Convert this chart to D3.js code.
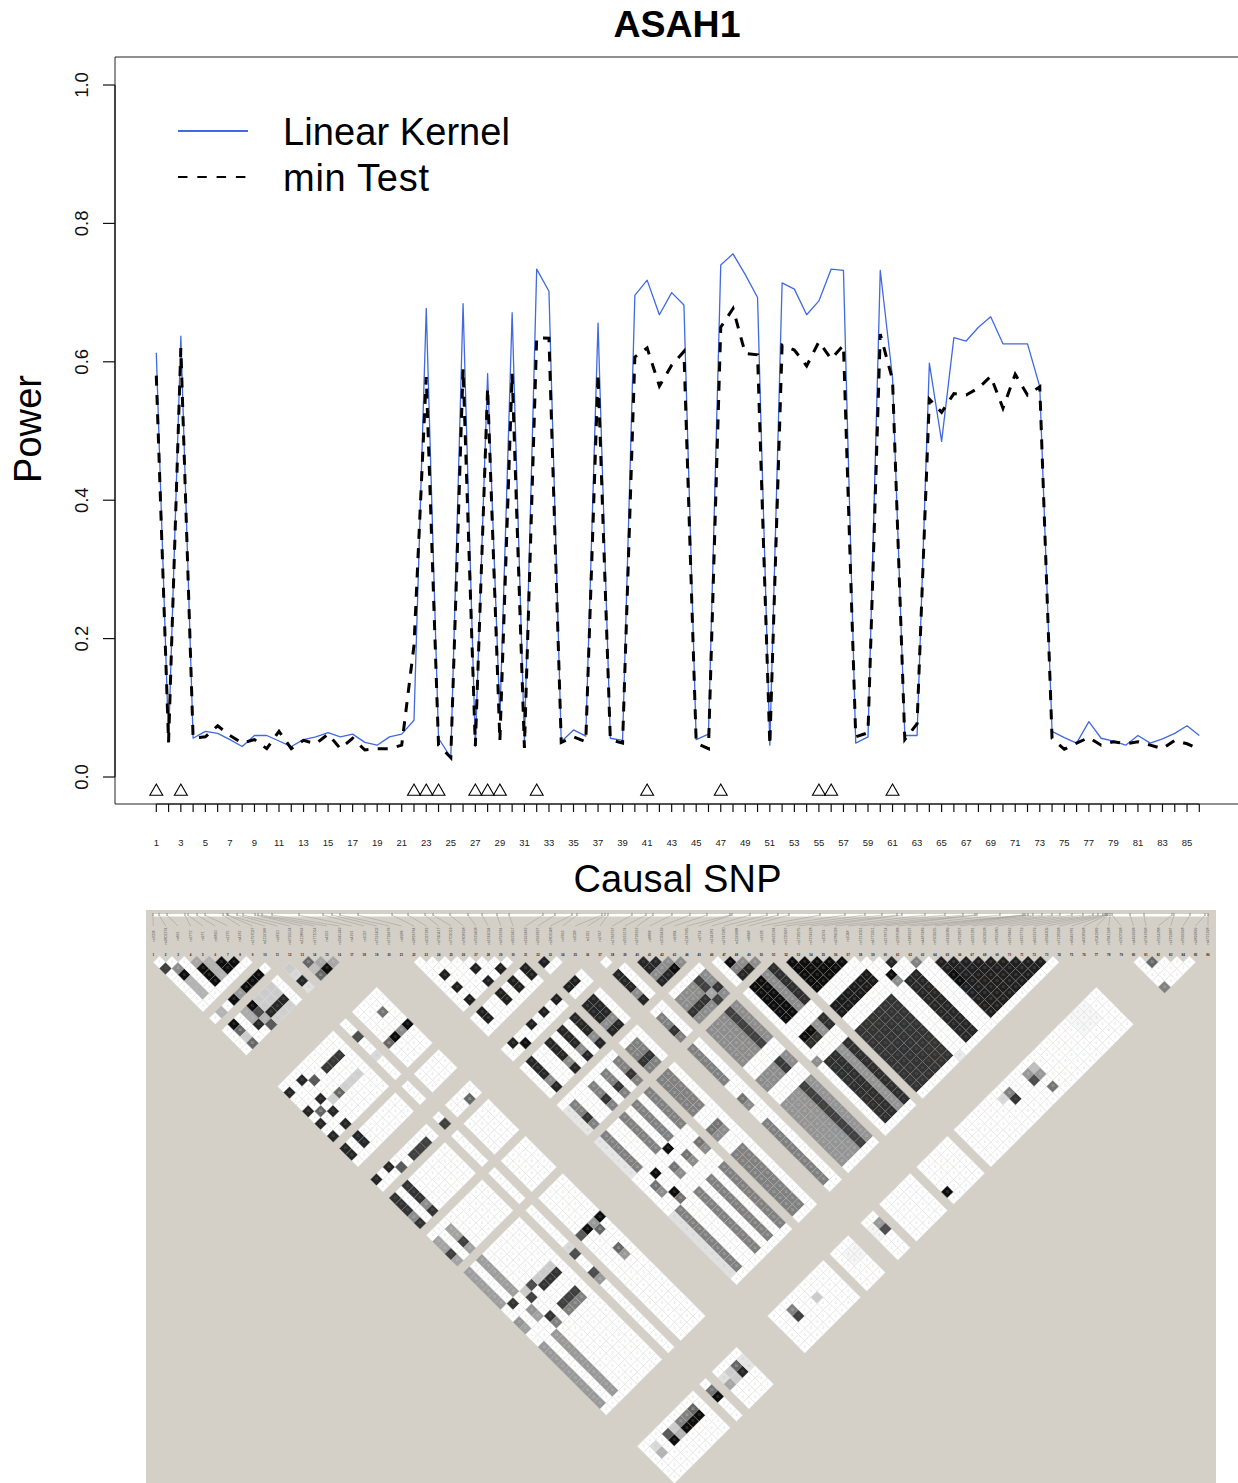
<!DOCTYPE html>
<html>
<head>
<meta charset="utf-8">
<script src="https://d3js.org/d3.v7.min.js"></script>
<style>
body { margin: 0; background: #fff; }
text { font-family: "Liberation Sans", Arial, sans-serif; }
</style>
</head>
<body>
<svg id="chart" width="1238" height="1483"></svg>
<script>
// power curves, one value per SNP 1..86
const linearKernel = [0.613,0.052,0.637,0.056,0.066,0.063,0.054,0.044,0.060,0.060,
  0.052,0.044,0.054,0.058,0.064,0.058,0.062,0.050,0.046,0.058,
  0.062,0.082,0.677,0.056,0.028,0.684,0.044,0.583,0.085,0.671,
  0.049,0.734,0.702,0.051,0.068,0.059,0.656,0.056,0.053,0.696,
  0.718,0.668,0.700,0.682,0.054,0.062,0.740,0.756,0.726,0.693,
  0.046,0.714,0.705,0.668,0.688,0.734,0.732,0.049,0.058,0.732,
  0.577,0.060,0.060,0.598,0.485,0.635,0.630,0.650,0.665,0.626,
  0.626,0.626,0.564,0.066,0.057,0.049,0.080,0.056,0.052,0.046,
  0.060,0.049,0.055,0.063,0.074,0.060];
const minTest = [0.580,0.050,0.620,0.056,0.058,0.074,0.060,0.049,0.054,0.041,
  0.066,0.041,0.053,0.048,0.062,0.041,0.056,0.039,0.041,0.041,
  0.046,0.190,0.578,0.046,0.028,0.590,0.045,0.562,0.052,0.583,
  0.042,0.635,0.634,0.050,0.058,0.051,0.583,0.054,0.049,0.607,
  0.620,0.565,0.595,0.615,0.049,0.041,0.650,0.677,0.612,0.610,
  0.046,0.624,0.617,0.594,0.629,0.604,0.624,0.058,0.064,0.640,
  0.574,0.054,0.077,0.546,0.527,0.554,0.552,0.562,0.579,0.533,
  0.582,0.552,0.564,0.056,0.040,0.049,0.057,0.046,0.051,0.048,
  0.051,0.046,0.041,0.053,0.048,0.040];
const causalSnps = [1,3,22,23,24,27,28,29,32,41,47,55,56,61];
const causalLevel = -0.021;
const yTicks = [0,0.2,0.4,0.6,0.8,1];
const legendLabels = ["Linear Kernel","min Test"];

// LD plot: marker names (tiny in the picture, read as well as possible), map positions
const markerNames = ["rs7008","rs3802274","rs691","rs2772","rs971","rs6890","rs1275","rs4161","rs1797027","rs1119166","rs2610","rs3735534",
  "rs1118694","rs1771014","rs4291","rs2945349","rs4291","rs1037","rs7191402","rs1739476","rs6986","rs3816764","rs1037282","rs2740417","rs7701013","rs7608298",
  "rs7919408","rs3749034","rs3793164","rs3923457","rs1992462","rs2992627","rs1801048","rs7693","rs2038","rs1911","rs2747","rs1763797","rs2919174","rs3726292",
  "rs8868","rs1033439","rs9384","rs1247965","rs2714","rs134281","rs2747980","rs1195688","rs6848","rs1928","rs6931584","rs1220967","rs1728275","rs7374928",
  "rs10974","rs3789018","rs1048","rs7213091","rs4773351","rs3178714","rs2187088","rs7482927","rs4467489","rs7903925","rs7439089","rs2792827","rs3231281",
  "rs5903928","rs7819280","rs1978462","rs1627719","rs6931979","rs1634309","rs7128398","rs6949781","rs4908398","rs7042989","rs7841398","rs1907398","rs4493998",
  "rs2741698","rs7914288","rs2793687","rs7639398","rs3899839","rs4721398"];
const markerPositions = [153,159,167,185,188,197,205,223,227,228,237,243,255,258,262,272,299,323,332,340,358,392,408,425,433,
  450,468,482,497,509,543,555,572,577,602,605,608,632,646,653,672,690,707,730,732,750,767,778,789,820,845,865,882,897,902,
  925,945,963,975,977,1000,1023,1025,1028,1033,1042,1052,1060,1072,1083,1093,1098,1103,1105,1106,1107,1108,1110,1112,1130,1144,1172,1174,1190,1205,1208];
const ldMarkers = [1,2,3,4,5,6,7,8,9,11,13,14,15,16,22,23,24,25,26,27,28,29,30,32,33,34,37,38,40,41,42,43,44,46,47,48,49,50,
  52,53,54,55,56,57,58,59,60,61,62,63,64,65,66,67,68,69,70,71,72,73,74,80,81,82,83,84,85];

const classA = [23,26,28,30,32,33,37];
const classB = [1,3];
const classC = [40,41,42,44];
const classD = [47,48,50];
const blockF = [52,53,54,55,56,57];
const blockG = [64,65,66,67,68,69,70,71,72,73];
const trio = [6,7,8];

// [first markers, second markers, r2], later rows win
const ldBlocks = [
  [[1],[3],.75],[[2],[4],.45],[[2],[5],.95],[[2],[6,7,8],.3],[[4],[5],.35],[[4],[6,7,8],.95],[[5],[6,7,8],.3],[[6,7],[7,8],.95],
  [trio,[11],.95],[[5],[11],.4],[[4],[11],.95],[[2],[11],.3],
  [[5],[13],.95],[[4],[13,14],.33],[[2],[13],.95],[[5],[14],.7],[[2],[14],.6],[[2],[15],.2],[[2],[16],.6],[[4],[15],.85],
  [[5],[16],.65],[[5],[15],.3],[trio,[15],.85],[trio,[13,14],.2],[trio,[16],.18],[[11],[13],.2],[[11],[14],.15],[[11],[15],.85],[[11],[16],.12],
  [[13],[14],.6],[[14,15],[15,16],.35],[[14],[16],.95],[[13],[15],.25],[[13],[16],.6],
  [[15],[24],.55],[[16],[27],.95],[[15],[27],.45],[[14],[27],.95],[[13],[27],.6],[[11],[24],.7],[[11],[27],.15],
  [trio,[24],.78],[[3],[23],.85],[[4],[24],.65],[trio,[27],.18],[[4],[27],.18],[[5],[27],.6],[[2],[27],.6],
  [classB,classA,.85],
  [[4],[38],.65],[trio,[38],.75],[[11],[38],.75],[[15],[38],.6],[[24],[38],.95],[[24],[59,62],.95],[[24],[63],.55],
  [[4],[59],.75],[trio,[59],.8],[[4,6,7,8],[58],.2],[[5],[58],.7],[[2],[58],.8],[[4],[62],.8],[trio,[62],.75],[[4,6,7,8],[63],.5],
  [classB,classC,.8],[classB,[43],.45],[classB,classD,.36],[classB,[49],.75],[classB,blockF,.38],[classB,[60],.42],[classB,[61],.37],[classB,blockG,.4],
  [classA,classA,.88],[classA,classC,.85],[classA,[43],.45],[classA,classD,.5],[classA,blockF,.5],[classA,[49],.8],[classA,[60],.55],[classA,[61],.45],[classA,blockG,.5],
  [[22],[47,48,49,50],.1],[[22],blockF,.1],[[22],blockG,.12],
  [[27],[58],.95],[[14,16],[58],.95],[[15],[58],.4],[[13],[58],.65],[[15],[59],.6],[[11],[58],.15],[[11],[59],.7],[[11],[62],.7],[[11],[63],.4],[[15],[62],.6],[[15],[63],.4],
  [classC,classC,.85],[[42],[44],.95],[classC,[43],.45],
  [classC,classD,.45],[classC,blockF,.45],[classC,[60,61],.45],[classC,blockG,.42],[classC,[49],.8],
  [[43],classD,.75],[[43],blockF,.75],[[43],[60,61],.78],[[43],blockG,.75],[[43],[49],.35],
  [[47],[48],.95],[[47,48],[50],.85],[[47],[49],.5],[[48,50],[49],.45],
  [[47,48],blockF,.95],[[49],blockF,.45],[[50],blockF,.82],[blockF,blockF,.95],[blockF,[60,61],.9],
  [[47,48],[60],.95],[[47,48],[61],.82],[[49],[60,61],.42],[[50],[60,61],.82],[[60],[61],.85],
  [[59],[62],.95],[[59],[63],.45],[[62],[63],.5],
  [[47,48,50],blockG,.82],[[49],blockG,.42],[blockF,blockG,.8],[[60,61],blockG,.85],[blockG,blockG,.88],[[64],[67,68],.95],[[46],[63],.45],
  [[15],[81],.6],[[15],[82],.85],[[16],[81,82],.1],[[13],[81],.12],[[14],[81,82],.2],[[13],[82],.35],[[11],[81],.55],[[11],[82],.95],
  [[8],[81],.6],[[6,7],[81],.5],[trio,[82],.95],[[5],[81],.2],[[5],[82],.3],[[4],[81],.65],[[4],[82],.95],[[2],[81],.15],[[2],[82],.3],
  [[24],[81],.5],[[24],[82],.75],[[27],[82],.2],[[38],[81],.4],[[38],[82],.7],[[46],[84],.95],
  [[33,34,37],[81,82],.04],[[70,71,72],[80,81,82],.03],[[58],[74],.08],
  [[62],[81],.4],[[62],[82],.7],[[63],[81],.25],[[63],[82],.4],[[63],[84],.55],[[59],[81],.5],[[59],[82],.8],[[58],[81],.15],[[81],[82],.6],[[80],[85],.5]
];

const svg = d3.select("#chart");

// ---------- power plot ----------
const x = d3.scaleLinear().domain([1, 86]).range([156.3, 1199.3]);
const y = d3.scaleLinear().domain([0, 1]).range([777, 85]);
const snps = d3.range(1, 87);
const axisBottomY = 804;

svg.append("path")
  .attr("d", `M115,${axisBottomY}V57H1238`)
  .attr("fill", "none").attr("stroke", "#222").attr("stroke-width", 1);
svg.append("line").attr("x1", 115).attr("x2", 1238).attr("y1", axisBottomY).attr("y2", axisBottomY)
  .attr("stroke", "#222").attr("stroke-width", 1);

const yAxis = svg.append("g").attr("transform", "translate(115,0)")
  .call(d3.axisLeft(y).tickValues(yTicks).tickSize(12).tickPadding(0).offset(0).tickFormat(d3.format(".1f")));
yAxis.selectAll("line").attr("stroke", "#111").attr("stroke-width", 1.2);
yAxis.select(".domain").attr("stroke", "#111").attr("stroke-width", 1.2).attr("d", `M0,${y(1)}V${y(0)}`);
yAxis.selectAll("text").attr("font-size", 18.5).attr("font-family", "Liberation Sans").attr("fill", "#111")
  .attr("text-anchor", "middle").attr("x", null).attr("dy", null)
  .attr("transform", d => `translate(-34,0) rotate(-90) translate(0,6.5)`);

const xAxis = svg.append("g").attr("transform", `translate(0,${axisBottomY})`)
  .call(d3.axisBottom(x).tickValues(snps).tickSize(8).tickPadding(0).offset(0).tickFormat(d => d % 2 ? d : ""));
xAxis.select(".domain").attr("d", `M${x(1)},0H${x(86)}`).attr("stroke", "#111").attr("stroke-width", 1.2);
xAxis.selectAll("line").attr("stroke", "#111").attr("stroke-width", 1.2);
xAxis.selectAll("text").attr("font-size", 9.5).attr("font-family", "Liberation Sans").attr("fill", "#222").attr("y", 39).attr("dy", ".35em");

const line = d3.line().x((d, i) => x(i + 1)).y(d => y(d));
svg.append("path").datum(linearKernel).attr("d", line)
  .attr("fill", "none").attr("stroke", "#4169e1").attr("stroke-width", 1.3).attr("stroke-linejoin", "round");
svg.append("path").datum(minTest).attr("d", line)
  .attr("fill", "none").attr("stroke", "#000").attr("stroke-width", 3).attr("stroke-dasharray", "10,9.3");

const tri = d3.symbol().type(d3.symbolTriangle).size(72);
svg.append("g").selectAll("path").data(causalSnps).join("path")
  .attr("d", tri)
  .attr("transform", d => `translate(${x(d)},${y(causalLevel)})`)
  .attr("fill", "none").attr("stroke", "#000").attr("stroke-width", 1.1);

const bigFont = 38;
svg.append("text").attr("x", 677).attr("y", 37).attr("text-anchor", "middle")
  .attr("font-size", 37.5).attr("font-weight", "bold").text("ASAH1");
svg.append("text").attr("x", 677.5).attr("y", 892).attr("text-anchor", "middle")
  .attr("font-size", bigFont).attr("textLength", 208).text("Causal SNP");
svg.append("text").attr("transform", "translate(41,429) rotate(-90)").attr("text-anchor", "middle")
  .attr("font-size", bigFont).attr("textLength", 108).text("Power");

const legendRows = d3.scalePoint().domain(legendLabels).range([131, 177]);
const legendWidths = [227, 146];
svg.append("line").attr("x1", 178).attr("x2", 248).attr("y1", legendRows(legendLabels[0])).attr("y2", legendRows(legendLabels[0]))
  .attr("stroke", "#4169e1").attr("stroke-width", 2);
svg.append("line").attr("x1", 178).attr("x2", 246).attr("y1", legendRows(legendLabels[1])).attr("y2", legendRows(legendLabels[1]))
  .attr("stroke", "#000").attr("stroke-width", 2.2).attr("stroke-dasharray", "9.5,9.8");
svg.append("g").selectAll("text").data(legendLabels).join("text")
  .attr("x", 283).attr("y", d => legendRows(d) + 14).attr("font-size", bigFont)
  .attr("textLength", (d, i) => legendWidths[i]).text(d => d);

// ---------- LD plot ----------
const ldBg = "#d4d0c8";
svg.append("rect").attr("x", 146).attr("y", 910).attr("width", 1070).attr("height", 573).attr("fill", ldBg);

const mx = d3.scaleLinear().domain([1, 86]).range([153.3, 1208]);
const my = d3.scaleLinear().domain([1, 85]).range([962.3, 962.3 + 84 * 6.205]);
const halfW = (mx(2) - mx(1)) / 2;
const halfH = my(2) - my(1);

// map strip with lines from each marker to its label
const stripY = 915, stripLabelY = 926;
svg.append("rect").attr("x", 153).attr("y", stripY - 1).attr("width", 1055).attr("height", 2.5).attr("fill", "#fff");
const mapLines = svg.append("g").attr("stroke", "#8d8b85").attr("stroke-width", 0.4);
mapLines.selectAll("line").data(markerPositions).join("line")
  .attr("x1", d => d).attr("y1", stripY).attr("x2", (d, i) => mx(i + 1)).attr("y2", stripLabelY);
svg.append("g").attr("stroke", "#555").attr("stroke-width", 0.6).selectAll("line").data(markerPositions).join("line")
  .attr("x1", d => d).attr("x2", d => d).attr("y1", stripY - 2).attr("y2", stripY + 1);

svg.append("g").selectAll("text").data(markerNames).join("text")
  .attr("transform", (d, i) => `translate(${mx(i + 1)},936) rotate(-90)`)
  .attr("text-anchor", "middle").attr("dy", "0.35em").attr("font-size", 3.6).attr("fill", "#555").text(d => d);
svg.append("g").selectAll("text").data(snps).join("text")
  .attr("x", d => mx(d)).attr("y", 955).attr("text-anchor", "middle").attr("dy", "0.35em")
  .attr("font-size", 3).attr("font-weight", "bold").attr("fill", "#222").text(d => d);

const r2 = new Map();
ldBlocks.forEach(([a, b, v]) => {
  a.forEach(i => b.forEach(j => {
    if (i !== j) r2.set(Math.min(i, j) + "-" + Math.max(i, j), v);
  }));
});

const ldCells = [];
ldMarkers.forEach((i, n) => {
  ldMarkers.slice(n + 1).forEach(j => {
    ldCells.push({ i: i, j: j, v: r2.get(i + "-" + j) || 0 });
  });
});

const grey = d3.scaleLinear().domain([0, 1]).range(["#ffffff", "#000000"]);
const cells = svg.append("g");
cells.selectAll("path").data(ldCells).join("path")
  .attr("d", `M0,${-halfH}L${halfW},0L0,${halfH}L${-halfW},0Z`)
  .attr("transform", d => `translate(${mx((d.i + d.j) / 2)},${my(d.j - d.i)})`)
  .attr("fill", d => grey(d.v))
  .attr("stroke", d => d.v > 0.6 ? "#808080" : d.v > 0.2 ? "#b5b5b5" : "#dedede")
  .attr("stroke-width", 0.5);
cells.selectAll("text").data(ldCells).join("text")
  .attr("x", d => mx((d.i + d.j) / 2)).attr("y", d => my(d.j - d.i))
  .attr("text-anchor", "middle").attr("dy", "0.35em").attr("font-size", 2.6)
  .attr("fill", d => d.v > 0.6 ? "#666" : d.v > 0.2 ? "#c4c4c4" : "#c8c8c8")
  .text(d => Math.round(d.v * 100));
</script>
</body>
</html>
